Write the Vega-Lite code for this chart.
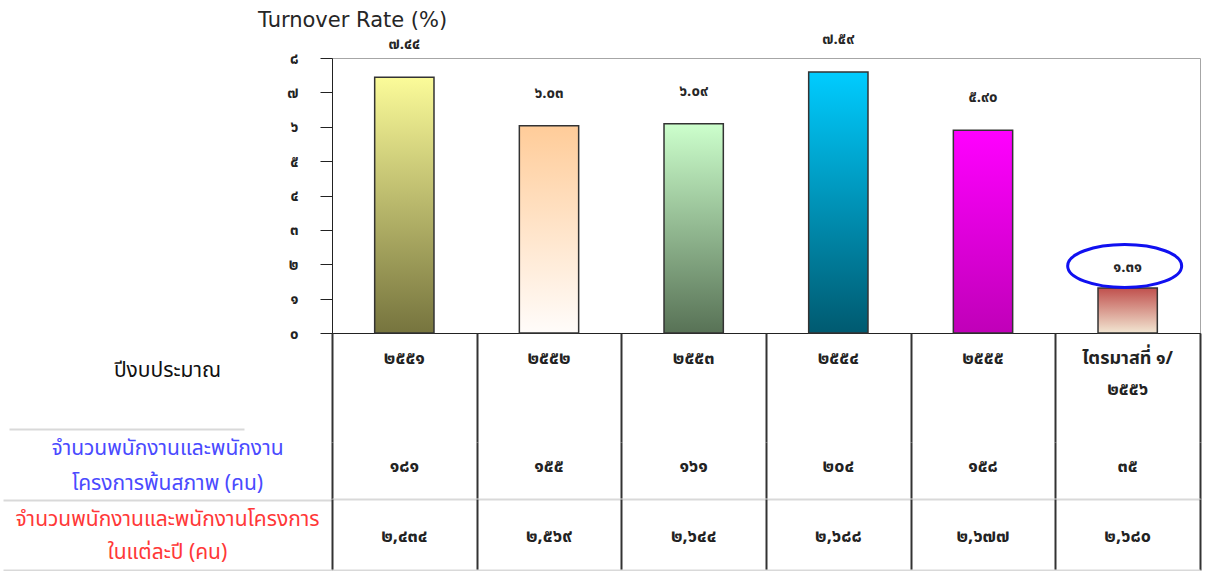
{
  "$schema": "https://vega.github.io/schema/vega-lite/v6.json",
  "padding": {"left": 2, "top": 9, "right": 6, "bottom": 0},
  "background": "white",
  "config": {"view": {"stroke": null}, "font": "Tahoma, 'Noto Sans Thai', 'Noto Sans', 'DejaVu Sans', sans-serif"},
  "spacing": 0,
  "bounds": "flush",
  "datasets": {
    "main": [
      {"cat": "2551", "rate": 7.44, "rateText": "๗.๔๔", "yearText": "๒๕๕๑", "leftText": "๑๘๑", "totalText": "๒,๔๓๔"},
      {"cat": "2552", "rate": 6.03, "rateText": "๖.๐๓", "yearText": "๒๕๕๒", "leftText": "๑๕๕", "totalText": "๒,๕๖๙"},
      {"cat": "2553", "rate": 6.09, "rateText": "๖.๐๙", "yearText": "๒๕๕๓", "leftText": "๑๖๑", "totalText": "๒,๖๔๔"},
      {"cat": "2554", "rate": 7.59, "rateText": "๗.๕๙", "yearText": "๒๕๕๔", "leftText": "๒๐๔", "totalText": "๒,๖๘๘"},
      {"cat": "2555", "rate": 5.90, "rateText": "๕.๙๐", "yearText": "๒๕๕๕", "leftText": "๑๕๘", "totalText": "๒,๖๗๗"},
      {"cat": "Q1/2556", "rate": 1.31, "rateText": "๑.๓๑", "yearText": "ไตรมาสที่ ๑/\n๒๕๕๖", "leftText": "๓๕", "totalText": "๒,๖๘๐"}
    ]
  },
  "vconcat": [
    {
      "width": 868,
      "height": 275,
      "view": {"stroke": "#a6a6a6"},
      "title": {"text": "Turnover Rate (%)", "anchor": "start", "frame": "group", "dx": -74, "fontSize": 21, "font": "DejaVu Sans", "fontWeight": "normal", "color": "#262626", "offset": 1},
      "data": {"name": "main"},
      "encoding": {
        "x": {"field": "cat", "type": "nominal", "sort": null, "scale": {"paddingInner": 0, "paddingOuter": 0},
          "axis": {"title": null, "labels": false, "tickBand": "extent", "tickSize": 5, "tickColor": "#222", "domainColor": "#222", "grid": false}},
        "y": {"field": "rate", "type": "quantitative", "scale": {"domain": [0, 8], "nice": false},
          "axis": {"title": null, "values": [0,1,2,3,4,5,6,7,8], "grid": false, "tickSize": 12, "tickColor": "#222", "domainColor": "#222",
            "labelPadding": 22, "labelFontSize": 15, "labelFontWeight": "bold", "labelColor": "#222",
            "labelExpr": "['๐','๑','๒','๓','๔','๕','๖','๗','๘'][datum.value]"}}
      },
      "layer": [
        {
          "mark": {"type": "bar", "width": {"band": 0.41}, "stroke": "#333", "strokeWidth": 1.5},
          "encoding": {
            "fill": {
              "condition": [
                {"test": "datum.cat === '2551'", "value": {"gradient": "linear", "x1": 0, "y1": 0, "x2": 0, "y2": 1, "stops": [{"offset": 0, "color": "#fbfb99"}, {"offset": 1, "color": "#76743e"}]}},
                {"test": "datum.cat === '2552'", "value": {"gradient": "linear", "x1": 0, "y1": 0, "x2": 0, "y2": 1, "stops": [{"offset": 0, "color": "#ffcc99"}, {"offset": 1, "color": "#fffcfa"}]}},
                {"test": "datum.cat === '2553'", "value": {"gradient": "linear", "x1": 0, "y1": 0, "x2": 0, "y2": 1, "stops": [{"offset": 0, "color": "#ccffcc"}, {"offset": 1, "color": "#587256"}]}},
                {"test": "datum.cat === '2554'", "value": {"gradient": "linear", "x1": 0, "y1": 0, "x2": 0, "y2": 1, "stops": [{"offset": 0, "color": "#00ccff"}, {"offset": 1, "color": "#005a70"}]}},
                {"test": "datum.cat === '2555'", "value": {"gradient": "linear", "x1": 0, "y1": 0, "x2": 0, "y2": 1, "stops": [{"offset": 0, "color": "#ff00ff"}, {"offset": 1, "color": "#c000b8"}]}}
              ],
              "value": {"gradient": "linear", "x1": 0, "y1": 0, "x2": 0, "y2": 1, "stops": [{"offset": 0, "color": "#c0504d"}, {"offset": 1, "color": "#f2e6d2"}]}
            }
          }
        },
        {
          "transform": [{"filter": "datum.cat !== 'Q1/2556'"}],
          "mark": {"type": "text", "dy": -33, "fontSize": 15, "fontWeight": "bold", "color": "#262626"},
          "encoding": {"text": {"field": "rateText"}}
        },
        {
          "transform": [{"filter": "datum.cat === 'Q1/2556'"}],
          "mark": {"type": "text", "dy": -21, "fontSize": 15, "fontWeight": "bold", "color": "#262626"},
          "encoding": {"text": {"field": "rateText"}}
        },
        {
          "transform": [{"filter": "datum.cat === 'Q1/2556'"}],
          "mark": {"type": "point", "shape": "M-1,0 A1,0.377 0 1,1 1,0 A1,0.377 0 1,1 -1,0 Z", "size": 12996, "filled": false, "stroke": "#1010f0", "strokeWidth": 3, "opacity": 1, "yOffset": -22, "xOffset": -3},
          "encoding": {}
        }
      ]
    },
    {
      "width": 868,
      "height": 109,
      "data": {"name": "main"},
      "mark": {"type": "text", "baseline": "top", "dy": -38, "lineBreak": "\n", "lineHeight": 31, "fontSize": 18, "fontWeight": "bold", "color": "#222"},
      "encoding": {
        "x": {"field": "cat", "type": "nominal", "sort": null, "scale": {"paddingInner": 0, "paddingOuter": 0},
          "axis": {"title": null, "labels": false, "ticks": false, "domain": false, "grid": true, "tickBand": "extent", "gridColor": "#333", "gridWidth": 2}},
        "y": {"datum": "ปีงบประมาณ", "type": "nominal",
          "axis": {"title": null, "domain": false, "ticks": true, "tickSize": 329, "tickColor": "#d9d9d9", "tickWidth": 2, "tickDash": [0, 88, 235, 20],
            "tickOffset": 41, "labelOffset": -58.5, "labelPadding": -164, "labelAlign": "center", "labelBaseline": "middle",
            "labelFontSize": 21, "labelColor": "#111", "labelLimit": 0}},
        "text": {"field": "yearText"}
      }
    },
    {
      "width": 868,
      "height": 57,
      "data": {"name": "main"},
      "mark": {"type": "text", "dy": -4, "fontSize": 18, "fontWeight": "bold", "color": "#222"},
      "encoding": {
        "x": {"field": "cat", "type": "nominal", "sort": null, "scale": {"paddingInner": 0, "paddingOuter": 0},
          "axis": {"title": null, "labels": false, "ticks": false, "domain": true, "domainColor": "#d9d9d9", "domainWidth": 2, "grid": true, "tickBand": "extent", "gridColor": "#333", "gridWidth": 2}},
        "y": {"datum": "จำนวนพนักงานและพนักงาน|โครงการพ้นสภาพ (คน)", "type": "nominal",
          "axis": {"title": null, "domain": false, "ticks": true, "tickSize": 329, "tickColor": "#d9d9d9", "tickWidth": 2,
            "tickOffset": 29.5, "labelOffset": -52, "labelPadding": -164, "labelAlign": "center", "labelBaseline": "middle",
            "labelExpr": "split(datum.value, '|')", "labelLineHeight": 35,
            "labelFontSize": 21, "labelColor": "#4a4aff", "labelLimit": 0}},
        "text": {"field": "leftText"}
      }
    },
    {
      "width": 868,
      "height": 71,
      "data": {"name": "main"},
      "mark": {"type": "text", "dy": 2, "fontSize": 18, "fontWeight": "bold", "color": "#222"},
      "encoding": {
        "x": {"field": "cat", "type": "nominal", "sort": null, "scale": {"paddingInner": 0, "paddingOuter": 0},
          "axis": {"title": null, "labels": false, "ticks": false, "domain": true, "domainColor": "#d9d9d9", "domainWidth": 2, "grid": true, "tickBand": "extent", "gridColor": "#333", "gridWidth": 2}},
        "y": {"datum": "จำนวนพนักงานและพนักงานโครงการ|ในแต่ละปี (คน)", "type": "nominal",
          "axis": {"title": null, "domain": false, "ticks": true, "tickSize": 329, "tickColor": "#d9d9d9", "tickWidth": 2,
            "tickOffset": 35.5, "labelOffset": -51, "labelPadding": -164, "labelAlign": "center", "labelBaseline": "middle",
            "labelExpr": "split(datum.value, '|')", "labelLineHeight": 33,
            "labelFontSize": 21, "labelColor": "#ff3838", "labelLimit": 0}},
        "text": {"field": "totalText"}
      }
    }
  ]
}
